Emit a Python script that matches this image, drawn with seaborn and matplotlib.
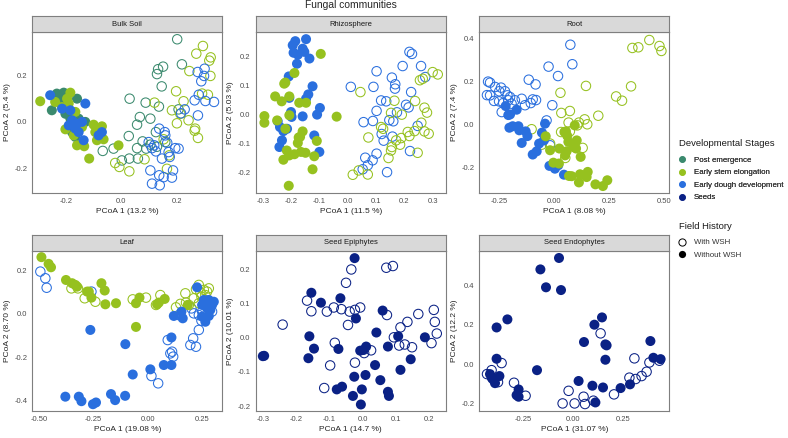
import pandas as pd
import matplotlib.pyplot as plt
import seaborn as sns
from matplotlib.lines import Line2D
from matplotlib.ticker import FormatStrFormatter

# --- Data ---
# Bulk Soil
bulk_pe_without_x = [-0.233, -0.208, -0.160, -0.251, -0.202, -0.154, -0.178, -0.227, -0.130, -0.166, -0.220, -0.184]
bulk_pe_without_y = [0.121, 0.125, 0.099, 0.049, 0.034, 0.013, -0.045, 0.106, -0.001, -0.066, 0.078, 0.013]
bulk_ese_without_x = [-0.293, -0.184, -0.202, -0.100, -0.070, -0.160, -0.134, -0.116, -0.010, -0.088, -0.064, -0.172,
                      -0.239, -0.214, -0.190, -0.166, -0.142, -0.094, -0.196]
bulk_ese_without_y = [0.088, 0.125, -0.033, -0.013, -0.020, -0.102, -0.106, -0.159, -0.102, -0.080, -0.076, -0.059,
                      0.085, 0.063, 0.078, 0.042, -0.023, -0.045, 0.099]
bulk_edd_without_x = [-0.257, -0.130, -0.178, -0.142, -0.190, -0.070, -0.166, -0.136, -0.082, -0.154, -0.214, -0.184, -0.160]
bulk_edd_without_y = [0.114, 0.078, 0.006, -0.001, -0.016, -0.045, -0.030, -0.080, -0.059, -0.045, 0.056, 0.049, -0.009]
bulk_pe_with_x = [0.202, 0.219, 0.151, 0.133, 0.129, 0.146, 0.030, 0.088, 0.136, 0.067, 0.057, 0.105, 0.027,
                  0.077, 0.057, 0.090, -0.067, -0.028, 0.029, 0.060, 0.002, 0.105, 0.129, 0.159, 0.125, 0.207]
bulk_pe_with_y = [0.355, 0.247, 0.237, 0.226, 0.205, 0.152, 0.099, 0.082, 0.065, 0.020, -0.013, 0.013, -0.062,
                  -0.085, -0.114, -0.116, -0.126, -0.116, -0.159, -0.159, -0.167, -0.099, -0.108, -0.088, -0.045, 0.053]
bulk_ese_with_x = [0.295, 0.271, 0.323, 0.318, 0.322, 0.246, 0.198, 0.225, 0.183, 0.213, 0.201, 0.243, 0.267,
                   0.277, 0.153, 0.173, 0.084, -0.022, -0.007, 0.029, 0.165, 0.120, 0.313, 0.292, 0.265]
bulk_ese_with_y = [0.326, 0.293, 0.277, 0.263, 0.197, 0.218, 0.131, 0.088, 0.049, 0.034, -0.007, 0.006, -0.030,
                   -0.070, -0.076, -0.145, -0.162, -0.178, -0.195, -0.214, -0.203, 0.082, 0.116, 0.121, -0.039]
bulk_edd_with_x = [0.276, 0.301, 0.299, 0.289, 0.265, 0.280, 0.304, 0.335, 0.229, 0.216, 0.277, 0.157, 0.166,
                   0.137, 0.119, 0.125, 0.195, 0.207, 0.171, 0.147, 0.175, 0.105, 0.187, 0.137, 0.111, 0.139,
                   0.153, 0.183, 0.099, 0.111, 0.159]
bulk_edd_with_y = [0.214, 0.228, 0.197, 0.174, 0.092, 0.116, 0.089, 0.085, 0.053, 0.036, 0.027, -0.045, -0.091,
                   -0.030, -0.102, -0.128, -0.114, -0.116, -0.131, -0.159, -0.152, -0.210, -0.210, -0.231, -0.267,
                   -0.274, -0.239, -0.241, -0.088, -0.114, -0.059]

# Rhizosphere
rhizo_edd_without_x = [-0.185, -0.147, -0.194, -0.159, -0.153, -0.191, -0.176, -0.135, -0.179, -0.208, -0.124, -0.139,
                       -0.147, -0.206, -0.098, -0.200, -0.198, -0.159, -0.108, -0.247, -0.239, -0.227, -0.232, -0.118,
                       -0.241, -0.100, -0.214]
rhizo_edd_without_y = [0.253, 0.260, 0.239, 0.227, 0.216, 0.213, 0.206, 0.193, 0.175, 0.131, 0.097, 0.069,
                       0.054, 0.057, 0.022, 0.008, -0.009, -0.007, -0.001, -0.024, -0.044, -0.058, -0.090, -0.073,
                       -0.113, -0.130, -0.050]
rhizo_ese_without_x = [-0.095, -0.188, -0.220, -0.256, -0.233, -0.206, -0.171, -0.147, -0.294, -0.294, -0.249, -0.206,
                       -0.039, -0.220, -0.159, -0.173, -0.109, -0.176, -0.215, -0.206, -0.188, -0.165, -0.149, -0.118,
                       -0.227, -0.124, -0.208, -0.168, -0.224]
rhizo_ese_without_y = [0.209, 0.143, 0.110, 0.062, 0.045, 0.062, 0.040, 0.040, -0.006, -0.029, -0.021, -0.003,
                       -0.008, -0.050, -0.059, -0.080, -0.092, -0.099, -0.125, -0.142, -0.138, -0.130, -0.133, -0.145,
                       -0.157, -0.190, -0.247, -0.078, 0.106]
rhizo_edd_with_x = [0.218, 0.227, 0.194, 0.259, 0.102, 0.156, 0.168, 0.167, 0.011, 0.091, 0.224, 0.118, 0.136,
                    0.206, 0.215, 0.102, 0.174, 0.147, 0.056, 0.089, 0.120, 0.127, 0.158, 0.247, 0.220, 0.102,
                    0.062, 0.088, 0.071, 0.053, 0.139, 0.161, 0.274]
rhizo_edd_with_y = [0.216, 0.209, 0.167, 0.167, 0.149, 0.127, 0.104, 0.089, 0.095, 0.095, 0.077, 0.048, 0.045,
                    0.033, 0.024, 0.012, 0.007, -0.020, -0.027, -0.023, -0.068, -0.091, -0.077, -0.040, -0.127,
                    -0.136, -0.150, -0.159, -0.176, -0.190, -0.200, -0.024, 0.129]
rhizo_ese_with_x = [0.045, 0.255, 0.265, 0.300, 0.318, 0.165, 0.238, 0.271, 0.280, 0.153, 0.191, 0.260, 0.125,
                    0.118, 0.271, 0.286, 0.189, 0.218, 0.236, 0.073, 0.156, 0.185, 0.153, 0.144, 0.247, 0.018,
                    0.039, 0.071, 0.212, 0.171]
rhizo_ese_with_y = [0.077, 0.118, 0.123, 0.146, 0.138, 0.047, 0.046, 0.023, 0.006, 0.005, -0.001, -0.029, -0.050,
                    -0.044, -0.059, -0.067, -0.082, -0.075, -0.058, -0.080, -0.113, -0.105, -0.125, -0.151, -0.133,
                    -0.209, -0.194, -0.208, -0.061, -0.090]

# Root
root_edd_with_x = [0.072, 0.081, -0.027, 0.016, -0.117, -0.086, -0.293, -0.270, -0.243, -0.251, -0.225, -0.214,
                   -0.202, -0.275, -0.252, -0.233, -0.210, -0.180, -0.149, -0.134, -0.108, -0.099, -0.084, -0.010,
                   -0.240, -0.036, -0.020, -0.293, -0.195, -0.302, -0.307]
root_edd_with_y = [0.371, 0.280, 0.269, 0.225, 0.208, 0.186, 0.194, 0.174, 0.171, 0.154, 0.154, 0.135,
                   0.127, 0.109, 0.107, 0.099, 0.112, 0.112, 0.119, 0.089, 0.099, 0.116, 0.113, 0.089,
                   0.057, 0.018, -0.098, 0.135, 0.096, 0.199, 0.136]
root_ese_with_x = [0.431, 0.354, 0.381, 0.477, 0.486, 0.143, 0.348, 0.027, 0.280, 0.307, 0.031, 0.070, 0.199,
                   0.064, 0.137, 0.149, 0.104, 0.030, 0.070, 0.128, 0.049, -0.020, -0.058, -0.104, 0.111]
root_ese_with_y = [0.393, 0.356, 0.359, 0.365, 0.342, 0.179, 0.177, 0.147, 0.130, 0.110, 0.053, 0.062, 0.040,
                   0.008, 0.023, 0.000, -0.005, -0.036, -0.033, -0.110, -0.157, -0.090, -0.095, -0.023, 0.008]
root_edd_without_x = [-0.222, -0.202, -0.172, -0.205, -0.190, -0.164, -0.160, -0.131, -0.123, -0.043, -0.057,
                      -0.149, -0.070, -0.099, -0.081, -0.023, 0.002, 0.043, 0.017, -0.048, -0.210]
root_edd_without_y = [0.085, 0.046, 0.068, -0.016, -0.009, -0.009, -0.028, -0.033, -0.055, 0.003, -0.039,
                      -0.087, -0.090, -0.141, -0.126, -0.194, -0.207, -0.235, -0.191, -0.075, 0.043]
root_ese_without_x = [0.092, 0.045, 0.058, -0.040, -0.020, 0.022, 0.055, 0.048, 0.086, 0.098, 0.119, -0.005,
                      0.020, 0.066, 0.078, 0.116, 0.151, 0.146, 0.111, 0.186, 0.220, 0.240, 0.063, 0.101, 0.052]
root_ese_without_y = [-0.005, -0.036, -0.054, -0.056, -0.121, -0.113, -0.126, -0.145, -0.106, -0.113, -0.152, -0.179,
                      -0.183, -0.241, -0.242, -0.233, -0.222, -0.246, -0.271, -0.280, -0.288, -0.261, -0.082, -0.075,
                      -0.033]

# Leaf
leaf_ese_without_x = [-0.489, -0.456, -0.445, -0.376, -0.348, -0.333, -0.325, -0.213, -0.198, -0.279, -0.259,
                      -0.195, -0.146, -0.038, -0.054, 0.043, 0.051, 0.078, -0.054, -0.271, 0.184]
leaf_ese_without_y = [0.264, 0.233, 0.217, 0.158, 0.143, 0.135, 0.127, 0.143, 0.109, 0.104, 0.076,
                      0.045, 0.050, 0.076, 0.050, 0.045, 0.053, 0.070, -0.060, 0.104, 0.042]
leaf_edd_with_x = [-0.494, -0.471, -0.465, -0.259, 0.201, 0.212, 0.235, 0.250, 0.235, 0.209, 0.196, 0.222,
                   0.092, 0.112, 0.117, 0.017, 0.048, 0.104, 0.143, 0.281, 0.296, 0.265, 0.247]
leaf_edd_with_y = [0.197, 0.166, 0.122, 0.104, 0.026, 0.003, -0.005, 0.011, -0.074, -0.113, -0.144, -0.152,
                   -0.121, -0.175, -0.198, -0.288, -0.322, -0.183, -0.005, 0.034, 0.011, 0.065, -0.031]
leaf_ese_with_x = [-0.351, -0.321, -0.290, -0.241, -0.069, -0.008, 0.058, 0.038, 0.173, 0.222, 0.235, 0.242,
                   0.258, 0.281, 0.265, 0.130, 0.150, 0.176, 0.189, 0.212, 0.235, 0.288, 0.247, 0.273]
leaf_ese_with_y = [0.119, 0.119, 0.073, 0.057, 0.068, 0.076, 0.088, 0.042, 0.096, 0.115, 0.135, 0.099,
                   0.112, 0.119, 0.088, 0.031, 0.047, 0.053, 0.042, 0.073, 0.050, 0.057, 0.081, 0.104]
leaf_edd_without_x = [-0.264, -0.103, -0.069, 0.012, 0.074, 0.109, 0.109, 0.120, 0.155, 0.161, 0.227, 0.250,
                      0.265, 0.281, 0.288, 0.265, 0.281, 0.296, 0.304, 0.258, -0.379, -0.317, -0.305, -0.252,
                      -0.238, -0.169, -0.150, -0.104, 0.273, 0.250]
leaf_edd_without_y = [-0.074, -0.140, -0.281, -0.257, -0.237, -0.237, -0.109, -0.009, 0.011, -0.020, 0.124, -0.012,
                      -0.036, -0.009, 0.019, 0.050, 0.065, 0.042, 0.057, 0.065, -0.384, -0.384, -0.405, -0.419,
                      -0.411, -0.372, -0.400, -0.380, 0.026, 0.042]

# Seed Epiphytes
epi_without_x = [-0.024, -0.155, -0.126, -0.067, 0.061, -0.020, 0.042, -0.161, -0.147, -0.073, -0.164, -0.007,
                 0.003, 0.011, 0.108, 0.077, 0.189, 0.146, 0.038, 0.115, -0.025, 0.009, 0.054, -0.078, -0.062,
                 -0.029, -0.002, 0.077, 0.080, -0.005, -0.298, -0.302]
epi_without_y = [0.232, 0.131, 0.102, 0.115, 0.079, 0.056, 0.015, 0.004, -0.032, -0.033, -0.060, -0.038,
                 -0.036, -0.026, 0.004, -0.026, 0.001, -0.063, -0.080, -0.094, -0.114, -0.109, -0.124, -0.151,
                 -0.143, -0.170, -0.151, -0.158, -0.170, -0.195, -0.053, -0.054]
epi_with_x = [-0.034, 0.072, 0.092, -0.050, -0.168, -0.155, -0.108, -0.087, -0.064, -0.039, -0.023, -0.007,
              0.074, -0.044, -0.242, 0.115, 0.136, 0.169, 0.216, 0.219, 0.225, 0.209, 0.150, 0.128, 0.111,
              0.095, 0.026, 0.005, -0.084, -0.023, -0.098, -0.116]
epi_with_y = [0.199, 0.204, 0.209, 0.160, 0.108, 0.077, 0.076, 0.088, 0.083, 0.076, 0.081, 0.088,
              0.066, 0.037, 0.038, 0.030, 0.046, 0.069, 0.081, 0.046, 0.012, -0.016, -0.028, -0.020, -0.023,
              0.001, -0.037, -0.045, -0.015, -0.073, -0.081, -0.147]

# Seed Endophytes
endo_without_x = [-0.070, -0.163, -0.135, -0.060, -0.328, -0.382, 0.145, 0.107, 0.055, 0.162, 0.168, 0.162,
                  -0.382, -0.415, -0.402, -0.390, -0.368, -0.180, -0.272, -0.282, -0.272, 0.028, 0.097, 0.150,
                  0.238, 0.285, 0.387, 0.402, 0.438, 0.112, -0.407]
endo_without_y = [0.539, 0.481, 0.390, 0.376, 0.227, 0.186, 0.237, 0.200, 0.112, 0.100, 0.095, 0.022,
                  0.027, -0.051, -0.076, -0.097, -0.061, -0.031, -0.129, -0.158, -0.166, -0.086, -0.110, -0.119,
                  -0.122, -0.103, 0.117, 0.032, 0.025, -0.195, -0.068]
endo_with_x = [0.138, 0.307, 0.382, 0.432, 0.368, 0.343, 0.313, 0.282, 0.205, -0.022, 0.053, 0.008, -0.052,
               0.060, -0.237, -0.295, -0.357, -0.407, -0.375, -0.430, 0.102]
endo_with_y = [0.156, 0.029, 0.008, 0.017, -0.039, -0.061, -0.076, -0.069, -0.154, -0.136, -0.166, -0.200, -0.200,
               -0.203, -0.161, -0.095, 0.005, -0.031, -0.092, -0.051, -0.186]

stages = ["Post emergence", "Early stem elongation", "Early dough development", "Seeds"]
stage_colors = {"Post emergence": "#3B8A6E", "Early stem elongation": "#96C11F",
                "Early dough development": "#2A6FDE", "Seeds": "#0A2185"}

PE, ESE, EDD, SD = stages
W, WO = "With WSH", "Without WSH"


def block(panel, stage, history, xs, ys):
    return pd.DataFrame({"panel": panel, "stage": stage, "history": history, "x": xs, "y": ys})


df = pd.concat([
    block("Bulk Soil", PE, WO, bulk_pe_without_x, bulk_pe_without_y),
    block("Bulk Soil", ESE, WO, bulk_ese_without_x, bulk_ese_without_y),
    block("Bulk Soil", EDD, WO, bulk_edd_without_x, bulk_edd_without_y),
    block("Bulk Soil", PE, W, bulk_pe_with_x, bulk_pe_with_y),
    block("Bulk Soil", ESE, W, bulk_ese_with_x, bulk_ese_with_y),
    block("Bulk Soil", EDD, W, bulk_edd_with_x, bulk_edd_with_y),
    block("Rhizosphere", EDD, WO, rhizo_edd_without_x, rhizo_edd_without_y),
    block("Rhizosphere", ESE, WO, rhizo_ese_without_x, rhizo_ese_without_y),
    block("Rhizosphere", EDD, W, rhizo_edd_with_x, rhizo_edd_with_y),
    block("Rhizosphere", ESE, W, rhizo_ese_with_x, rhizo_ese_with_y),
    block("Root", EDD, W, root_edd_with_x, root_edd_with_y),
    block("Root", ESE, W, root_ese_with_x, root_ese_with_y),
    block("Root", EDD, WO, root_edd_without_x, root_edd_without_y),
    block("Root", ESE, WO, root_ese_without_x, root_ese_without_y),
    block("Leaf", ESE, WO, leaf_ese_without_x, leaf_ese_without_y),
    block("Leaf", EDD, W, leaf_edd_with_x, leaf_edd_with_y),
    block("Leaf", ESE, W, leaf_ese_with_x, leaf_ese_with_y),
    block("Leaf", EDD, WO, leaf_edd_without_x, leaf_edd_without_y),
    block("Seed Epiphytes", SD, WO, epi_without_x, epi_without_y),
    block("Seed Epiphytes", SD, W, epi_with_x, epi_with_y),
    block("Seed Endophytes", SD, WO, endo_without_x, endo_without_y),
    block("Seed Endophytes", SD, W, endo_with_x, endo_with_y),
], ignore_index=True)

# panel name, x label, y label, x ticks, y ticks, x limits, y limits, tick format
panels = [
    ("Bulk Soil", "PCoA 1 (13.2 %)", "PCoA 2 (5.4 %)", [-0.2, 0, 0.2], [-0.2, 0, 0.2],
     (-0.3216, 0.365), (-0.306, 0.385), "%.1f"),
    ("Rhizosphere", "PCoA 1 (11.5 %)", "PCoA 2 (5.03 %)", [-0.3, -0.2, -0.1, 0, 0.1, 0.2, 0.3],
     [-0.2, -0.1, 0, 0.1, 0.2], (-0.3247, 0.346), (-0.271, 0.2837), "%.1f"),
    ("Root", "PCoA 1 (8.08 %)", "PCoA 2 (7.4 %)", [-0.25, 0, 0.25, 0.5], [-0.2, 0, 0.2, 0.4],
     (-0.3418, 0.5218), (-0.319, 0.429), ("%.2f", "%.1f")),
    ("Leaf", "PCoA 1 (19.08 %)", "PCoA 2 (8.70 %)", [-0.5, -0.25, 0, 0.25], [-0.4, -0.2, 0, 0.2],
     (-0.531, 0.343), (-0.451, 0.294), ("%.2f", "%.1f")),
    ("Seed Epiphytes", "PCoA 1 (14.7 %)", "PCoA 2 (10.01 %)", [-0.3, -0.2, -0.1, 0, 0.1, 0.2],
     [-0.2, -0.1, 0, 0.1, 0.2], (-0.3236, 0.252), (-0.2143, 0.2537), "%.1f"),
    ("Seed Endophytes", "PCoA 1 (31.07 %)", "PCoA 2 (12.2 %)", [-0.25, 0, 0.25], [-0.2, 0, 0.2, 0.4],
     (-0.4685, 0.4815), (-0.239, 0.576), ("%.2f", "%.1f")),
]

sns.set_style("white")
plt.rcParams["font.family"] = ["Liberation Sans", "DejaVu Sans"]
plt.rcParams["axes.unicode_minus"] = False

FW, FH = 788, 438
fig = plt.figure(figsize=(FW / 100, FH / 100), dpi=100)

col_left = [32.3, 255.7, 479.3]
row_top = [32.3, 250.7]
pw, ph, sh = 190, 160.4, 16

for i, (name, xl, yl, xt, yt, xlim, ylim, fmt) in enumerate(panels):
    left, top = col_left[i % 3], row_top[i // 3]
    ax = fig.add_axes([left / FW, 1 - (top + ph) / FH, pw / FW, ph / FH])
    sub = df[df["panel"] == name]

    # open circles: With WSH
    sns.scatterplot(data=sub[sub["history"] == W], x="x", y="y", hue="stage", palette=stage_colors,
                    s=46, linewidth=0, legend=False, ax=ax)
    coll = ax.collections[-1]
    coll.set_edgecolors(coll.get_facecolors())
    coll.set_facecolors("none")
    coll.set_linewidth(0.75)

    # filled circles: Without WSH
    sns.scatterplot(data=sub[sub["history"] == WO], x="x", y="y", hue="stage", palette=stage_colors,
                    s=52, linewidth=0, legend=False, ax=ax)

    ax.set_xlim(*xlim)
    ax.set_ylim(*ylim)
    ax.set_xticks(xt)
    ax.set_yticks(yt)
    xf, yf = fmt if isinstance(fmt, tuple) else (fmt, fmt)
    ax.xaxis.set_major_formatter(FormatStrFormatter(xf))
    ax.yaxis.set_major_formatter(FormatStrFormatter(yf))
    ax.tick_params(length=2.2, width=0.5, color="#333333", labelsize=5.5, labelcolor="#4D4D4D", pad=1.5)
    ax.set_xlabel(xl, fontsize=6, labelpad=2)
    ax.set_ylabel(yl, fontsize=6, labelpad=2.5)
    for sp in ax.spines.values():
        sp.set_color("#7F7F7F")
        sp.set_linewidth(0.8)

    # facet strip
    st = fig.add_axes([left / FW, 1 - top / FH, pw / FW, sh / FH])
    st.set_facecolor("#D9D9D9")
    st.set_xticks([])
    st.set_yticks([])
    for sp in st.spines.values():
        sp.set_color("#7F7F7F")
        sp.set_linewidth(0.8)
    st.text(0.5, 0.5, name, ha="center", va="center", fontsize=5.5, color="#1A1A1A", transform=st.transAxes)

fig.text(350.5 / FW, 1 - 8.3 / FH, "Fungal communities", ha="center", va="baseline", fontsize=7.4)

# legends (titles drawn as text so the gap below them can be set)
fig.text(679 / FW, 1 - 144 / FH, "Developmental Stages", ha="left", va="center", fontsize=6.8,
         color="#1A1A1A")
fig.text(679 / FW, 1 - 226.7 / FH, "Field History", ha="left", va="center", fontsize=6.8,
         color="#1A1A1A")

stage_handles = [Line2D([], [], marker="o", linestyle="", markersize=4.8, markeredgewidth=0,
                        color=stage_colors[s]) for s in stages]
leg1 = fig.legend(stage_handles, stages, loc="upper left",
                  bbox_to_anchor=(679 / FW, 1 - 156.2 / FH), frameon=False, fontsize=5.7,
                  handlelength=0.8, handletextpad=1.1, labelspacing=0.63, borderpad=0, borderaxespad=0,
                  labelcolor="#333333")
hist_handles = [Line2D([], [], marker="o", linestyle="", markersize=5.2, markerfacecolor="none",
                       markeredgecolor="black", markeredgewidth=0.7),
                Line2D([], [], marker="o", linestyle="", markersize=5.2, markeredgewidth=0, color="black")]
leg2 = fig.legend(hist_handles, [W, WO], loc="upper left",
                  bbox_to_anchor=(679 / FW, 1 - 238.9 / FH), frameon=False, fontsize=5.7,
                  handlelength=0.8, handletextpad=1.1, labelspacing=0.63, borderpad=0, borderaxespad=0,
                  labelcolor="#333333")
fig.add_artist(leg1)

fig.savefig("out.png", dpi=100)
